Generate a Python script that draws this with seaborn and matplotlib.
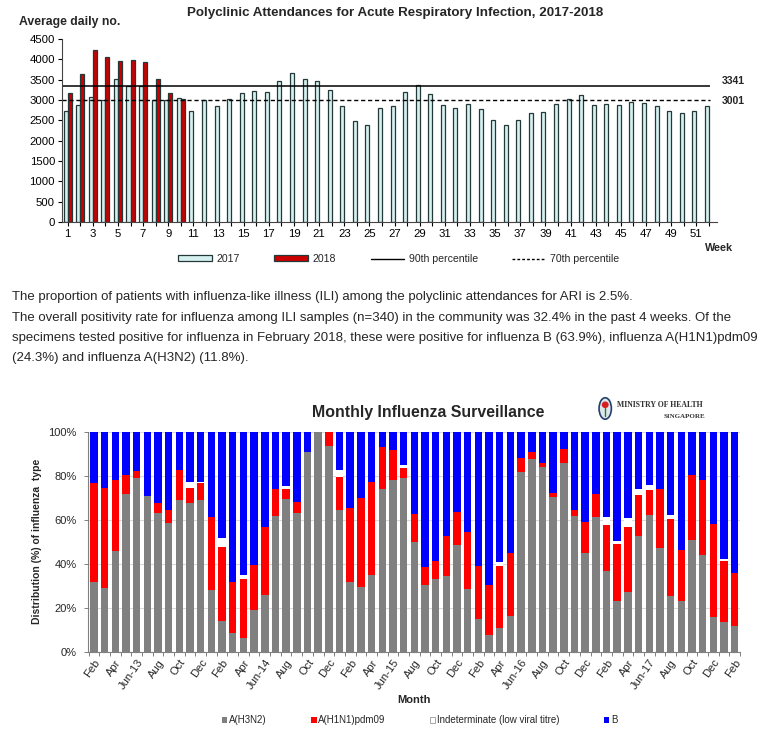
import numpy as np
import pandas as pd
import matplotlib
matplotlib.use("Agg")
import matplotlib.pyplot as plt
import seaborn as sns
from matplotlib.patches import Patch, Ellipse, Circle
from matplotlib.lines import Line2D

# ---- polyclinic attendances (average daily no.) ----
weeks = list(range(1, 53))
att_2017 = [2720, 2870, 3065, 3010, 3525, 3350, 3335, 3010, 3010, 3050,
            2720, 3010, 2845, 3030, 3170, 3230, 3195, 3465, 3665, 3515,
            3460, 3255, 2845, 2475, 2385, 2805, 2845, 3195, 3360, 3140,
            2875, 2795, 2900, 2785, 2515, 2385, 2500, 2680, 2695, 2895,
            3035, 3130, 2875, 2895, 2875, 2950, 2920, 2845, 2720, 2690,
            2735, 2845]
att_2018 = [3160, 3640, 4240, 4055, 3965, 3995, 3925, 3515, 3170, 3025]
p90 = 3341
p70 = 3001

# ---- monthly influenza surveillance (%), Feb 2013 - Feb 2018 ----
months = list(pd.date_range("2013-02-01", periods=61, freq="MS").strftime("%b-%y"))
tick_labels = ["Feb", "Apr", "Jun-13", "Aug", "Oct", "Dec",
               "Feb", "Apr", "Jun-14", "Aug", "Oct", "Dec",
               "Feb", "Apr", "Jun-15", "Aug", "Oct", "Dec",
               "Feb", "Apr", "Jun-16", "Aug", "Oct", "Dec",
               "Feb", "Apr", "Jun-17", "Aug", "Oct", "Dec", "Feb"]
h3n2 = [32.0, 29.1, 45.7, 72.0, 79.2, 70.8, 63.0, 58.6, 69.3, 67.6,
        69.0, 28.1, 14.1, 8.6, 6.4, 19.1, 26.1, 61.6, 69.6, 63.0,
        91.1, 100.0, 93.7, 64.7, 31.8, 29.4, 34.9, 73.9, 78.4, 79.2,
        49.8, 30.3, 33.3, 34.4, 48.6, 28.7, 15.0, 7.8, 10.9, 16.2,
        81.7, 87.9, 84.3, 70.3, 85.8, 61.6, 44.8, 61.3, 36.7, 23.4,
        27.1, 52.8, 62.4, 47.2, 25.5, 23.2, 50.9, 43.9, 15.9, 13.6,
        11.8]
h1n1 = [44.9, 45.4, 32.3, 8.4, 2.9, 0.0, 4.9, 6.1, 13.4, 7.0,
        7.6, 33.1, 33.5, 23.2, 26.6, 20.3, 30.9, 12.6, 4.3, 5.2,
        0.0, 0.0, 6.3, 14.8, 33.6, 40.6, 42.5, 19.4, 13.3, 4.3,
        12.9, 8.4, 8.0, 18.4, 15.0, 25.7, 24.0, 22.8, 28.2, 28.8,
        6.5, 3.1, 1.5, 2.0, 6.7, 2.8, 14.5, 10.6, 21.1, 25.5,
        29.6, 18.5, 11.1, 26.7, 34.9, 23.1, 29.5, 34.5, 42.5, 27.8,
        24.3]
indet = [0.0, 0.0, 0.0, 0.0, 0.0, 0.0, 0.0, 0.0, 0.0, 2.5,
         0.6, 0.0, 4.4, 0.0, 2.2, 0.0, 0.0, 0.0, 1.6, 0.0,
         0.0, 0.0, 0.0, 3.4, 0.0, 0.0, 0.0, 0.0, 0.0, 1.5,
         0.0, 0.0, 0.0, 0.0, 0.0, 0.0, 0.0, 0.0, 1.7, 0.0,
         0.0, 0.0, 0.0, 0.0, 0.0, 0.0, 0.0, 0.0, 3.4, 1.7,
         4.2, 3.0, 2.3, 0.0, 2.0, 0.0, 0.0, 0.0, 0.0, 0.8,
         0.0]
flu_b = [23.1, 25.5, 22.0, 19.6, 17.9, 29.2, 32.1, 35.3, 17.3, 22.9,
         22.8, 38.8, 48.0, 68.2, 64.8, 60.6, 43.0, 25.8, 24.5, 31.8,
         8.9, 0.0, 0.0, 17.1, 34.6, 30.0, 22.6, 6.7, 8.3, 15.0,
         37.3, 61.3, 58.7, 47.2, 36.4, 45.6, 61.0, 69.4, 59.2, 55.0,
         11.8, 9.0, 14.2, 27.7, 7.5, 35.6, 40.7, 28.1, 38.8, 49.4,
         39.1, 25.7, 24.2, 26.1, 37.6, 53.7, 19.6, 21.6, 41.6, 57.8,
         63.9]

sns.set_theme(style="ticks")
plt.rcParams['font.family'] = ['Liberation Sans', 'DejaVu Sans']

fig = plt.figure(figsize=(7.7, 7.4), dpi=100)

# ================= top chart =================
ax1 = fig.add_axes([0.0805, 0.700, 0.8506, 0.2473])
df1 = pd.concat([
    pd.DataFrame({'week': weeks, 'year': '2017', 'value': att_2017}),
    pd.DataFrame({'week': weeks[:len(att_2018)], 'year': '2018', 'value': att_2018}),
])
sns.barplot(data=df1, x='week', y='value', hue='year', hue_order=['2017', '2018'],
            order=weeks, palette={'2017': '#d6f0ef', '2018': '#cc0000'},
            saturation=1, width=0.64, errorbar=None, edgecolor='#243838',
            linewidth=0.9, legend=False, ax=ax1)
ax1.hlines(p90, -0.45, 51.1, colors='black', lw=1.1)
ax1.hlines(p70, -0.45, 51.1, colors='black', lw=1.0, linestyles=(0, (3, 2)))
ax1.set_xlim(-0.45, 51.64)
ax1.set_ylim(0, 4500)
ax1.set_yticks(range(0, 4501, 500))
ax1.set_xticks(range(len(weeks)))
ax1.set_xticklabels([str(w) if w % 2 == 1 else '' for w in weeks])
ax1.tick_params(axis='both', labelsize=8.2, length=3, width=0.8, pad=2, colors='black')
ax1.set_xlabel('')
ax1.set_ylabel('')
sns.despine(ax=ax1)
for sp in ax1.spines.values():
    sp.set_color('#444444')
    sp.set_linewidth(0.8)

trans = ax1.get_yaxis_transform()
ax1.text(1.007, p90 + 130, str(p90), transform=trans, fontsize=7.5,
         fontweight='bold', va='center', ha='left')
ax1.text(1.007, p70 - 20, str(p70), transform=trans, fontsize=7.5,
         fontweight='bold', va='center', ha='left')

fig.text(0.513, 0.982, 'Polyclinic Attendances for Acute Respiratory Infection, 2017-2018',
         ha='center', va='center', fontsize=9.6, fontweight='bold')
fig.text(0.025, 0.970, 'Average daily no.', ha='left', va='center',
         fontsize=8.8, fontweight='bold')
fig.text(0.916, 0.665, 'Week', ha='left', va='center', fontsize=7.8, fontweight='bold')

top_handles = [Patch(facecolor='#d6f0ef', edgecolor='#243838', lw=0.9),
               Patch(facecolor='#cc0000', edgecolor='#243838', lw=0.9),
               Line2D([], [], color='black', lw=1.0),
               Line2D([], [], color='black', lw=1.0, ls=(0, (2, 1.5)))]
fig.legend(top_handles, ['2017', '2018', '90th percentile', '70th percentile'],
           loc='center', bbox_to_anchor=(0.518, 0.65), ncol=4, frameon=False,
           fontsize=7.6, handlelength=3.2, handleheight=0.5, handletextpad=0.4,
           columnspacing=3.3)

# ================= paragraph =================
para = [
    "The proportion of patients with influenza-like illness (ILI) among the polyclinic attendances for ARI is 2.5%.",
    "The overall positivity rate for influenza among ILI samples (n=340) in the community was 32.4% in the past 4 weeks. Of the",
    "specimens tested positive for influenza in February 2018, these were positive for influenza B (63.9%), influenza A(H1N1)pdm09",
    "(24.3%) and influenza A(H3N2) (11.8%).",
]
for i, line in enumerate(para):
    fig.text(0.016, 1 - (297 + i * 20.5) / 740, line, ha='left', va='center', fontsize=9.5)

# ================= bottom chart =================
ax2 = fig.add_axes([0.1143, 0.1189, 0.8468, 0.2973])
ax2.yaxis.grid(True, color='#d9d9d9', lw=0.8)
ax2.set_axisbelow(True)

s1 = np.array(h3n2)
s2 = s1 + np.array(h1n1)
s3 = s2 + np.array(indet)
s4 = s3 + np.array(flu_b)
for heights, col in [(s4, '#0000ff'), (s3, '#ffffff'), (s2, '#ff0000'), (s1, '#808080')]:
    sns.barplot(x=months, y=heights, order=months, color=col, saturation=1,
                width=0.7, linewidth=0, errorbar=None, ax=ax2)

ax2.set_xlim(-0.55, 60.5)
ax2.set_ylim(0, 100)
ax2.set_yticks(range(0, 101, 20))
ax2.set_yticklabels([f"{v}%" for v in range(0, 101, 20)])
ax2.set_xticks(range(0, len(months), 2))
ax2.set_xticklabels(tick_labels, rotation=55, ha='right', rotation_mode='anchor')
ax2.set_xticks(np.arange(-0.5, len(months), 1), minor=True)
ax2.tick_params(axis='x', which='major', length=0, labelsize=8, pad=4)
ax2.tick_params(axis='x', which='minor', length=3, width=0.7, color='#808080')
ax2.tick_params(axis='y', length=3, width=0.7, color='#808080', labelsize=8, pad=5)
ax2.set_xlabel('')
ax2.set_ylabel('')
sns.despine(ax=ax2)
for sp in ['left', 'bottom']:
    ax2.spines[sp].set_color('#808080')
    ax2.spines[sp].set_linewidth(0.8)

fig.text(0.556, 0.442, 'Monthly Influenza Surveillance', ha='center', va='center',
         fontsize=11.4, fontweight='bold')
fig.text(0.048, 0.268, 'Distribution (%) of influenza  type', rotation=90,
         ha='center', va='center', fontsize=7.5, fontweight='bold')
fig.text(0.538, 0.054, 'Month', ha='center', va='center', fontsize=8, fontweight='bold')

bottom_handles = [Patch(facecolor='#808080', edgecolor='none'),
                  Patch(facecolor='#ff0000', edgecolor='none'),
                  Patch(facecolor='white', edgecolor='#999999', lw=0.6),
                  Patch(facecolor='#0000ff', edgecolor='none')]
fig.legend(bottom_handles, ['A(H3N2)', 'A(H1N1)pdm09', 'Indeterminate (low viral titre)', 'B'],
           loc='center', bbox_to_anchor=(0.545, 0.027), ncol=4, frameon=False,
           fontsize=7, handlelength=0.6, handleheight=0.6, handletextpad=0.2,
           columnspacing=4.5)

# MOH logo
fig.add_artist(Ellipse((0.786, 0.448), 0.016, 0.029, transform=fig.transFigure,
                       facecolor='#dfe6ee', edgecolor='#23406b', lw=1.2))
fig.add_artist(Circle((0.786, 0.453), 0.0045, transform=fig.transFigure,
                      facecolor='#d62020', edgecolor='none'))
fig.add_artist(Line2D([0.786, 0.786], [0.438, 0.449], transform=fig.transFigure,
                      color='#2a7a2a', lw=1.0))
fig.text(0.801, 0.453, 'MINISTRY OF HEALTH', ha='left', va='center', fontsize=5.6,
         fontweight='bold', family=['Liberation Serif', 'DejaVu Serif'], color='#333333')
fig.text(0.916, 0.437, 'SINGAPORE', ha='right', va='center', fontsize=5,
         fontweight='bold', family=['Liberation Serif', 'DejaVu Serif'], color='#333333')

fig.savefig('out.png', dpi=100)
